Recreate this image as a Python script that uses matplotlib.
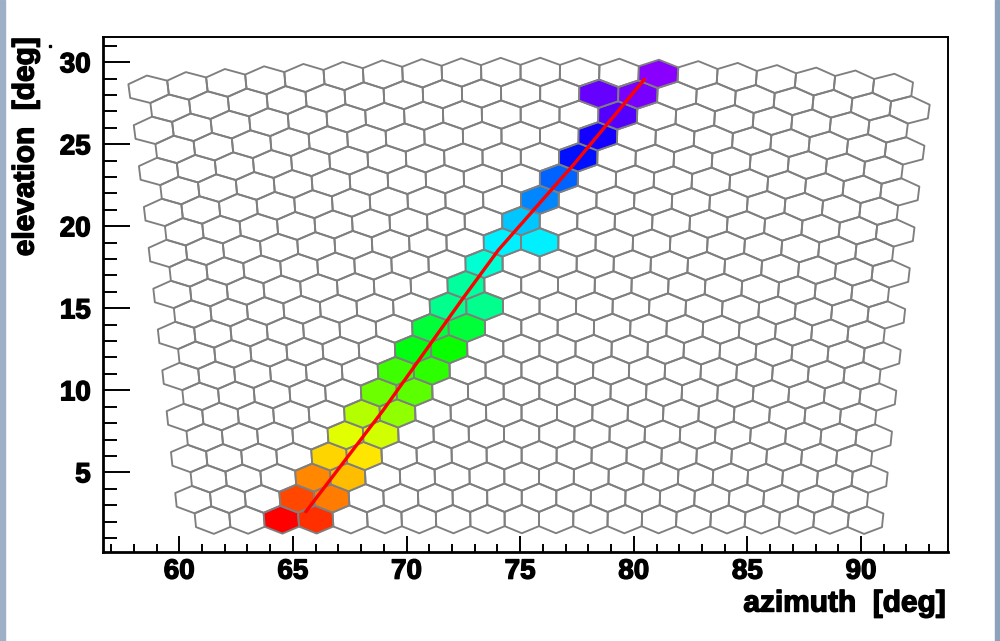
import numpy as np
import matplotlib
matplotlib.use("Agg")
import matplotlib.pyplot as plt
import matplotlib.patheffects as pe
from matplotlib.collections import PolyCollection
from matplotlib.colors import Normalize
from matplotlib.patches import Rectangle

# ---------------- data ----------------
# camera geometry (pointing direction, hexagonal pixel grid)
cam_az0 = 75.45      # deg
cam_el0 = 15.78      # deg
n_rows = 22
n_cols = 20
pitch_x = 1.553      # deg, horizontal pixel pitch
pitch_y = 1.298      # deg, row spacing

# hit pixels: approximate centre (az, el) and colour hue (deg)
hit_az = [64.52, 66.02, 65.27, 66.72, 66.02, 67.47, 66.72, 68.22, 67.47, 68.97,
          68.22, 69.72, 68.97, 70.46, 69.68, 71.17, 70.42, 71.92, 71.12, 72.71,
          71.92, 73.46, 72.66, 73.46, 74.21, 75.79, 74.99, 75.79, 76.83, 77.71,
          78.51, 79.47, 78.60, 79.83, 80.76]
hit_el = [2.27, 2.27, 3.55, 3.55, 4.89, 4.89, 6.17, 6.17, 7.45, 7.45,
          8.80, 8.80, 10.14, 10.14, 11.42, 11.42, 12.76, 12.76, 14.04, 14.04,
          15.32, 15.32, 16.60, 17.94, 19.16, 19.16, 20.50, 21.78, 23.00, 24.22,
          25.57, 26.91, 28.19, 28.19, 29.41]
hit_hue = [0, 12, 17, 30, 33, 45, 51, 56, 68, 73,
           80, 88, 96, 100, 108, 112, 126, 120, 136, 135,
           156, 156, 160, 172, 186, 186, 196, 212, 220, 240,
           248, 264, 268, 272, 276]

# fitted shower axis
track_az = [65.57, 68.98, 72.43, 74.04, 77.40, 80.47]
track_el = [2.60, 8.80, 15.51, 18.55, 23.84, 28.96]

x_ticks = [60, 65, 70, 75, 80, 85, 90]
y_ticks = [5, 10, 15, 20, 25, 30]
x_label = "azimuth  [deg]"
y_label = "elevation  [deg]"


# ---------------- geometry ----------------
def cam_to_azel(x, y):
    """gnomonic projection from camera plane (deg) to horizontal coords"""
    tx = np.tan(np.radians(np.asarray(x, float)))
    ty = np.tan(np.radians(np.asarray(y, float)))
    a0, e0 = np.radians(cam_az0), np.radians(cam_el0)
    c = np.array([np.cos(e0) * np.sin(a0), np.cos(e0) * np.cos(a0), np.sin(e0)])
    r = np.array([np.cos(a0), -np.sin(a0), 0.0])
    u = np.array([-np.sin(e0) * np.sin(a0), -np.sin(e0) * np.cos(a0), np.cos(e0)])
    v = c[:, None] + r[:, None] * tx.ravel() + u[:, None] * ty.ravel()
    az = np.degrees(np.arctan2(v[0], v[1]))
    el = np.degrees(np.arcsin(v[2] / np.linalg.norm(v, axis=0)))
    return az.reshape(tx.shape), el.reshape(tx.shape)


hx = np.array([0, 0.5, 0.5, 0, -0.5, -0.5]) * pitch_x
hy = np.array([2 / 3, 1 / 3, -1 / 3, -2 / 3, -1 / 3, 1 / 3]) * pitch_y

polys, centers = [], []
for i in range(n_rows):
    off = 0.25 if i % 2 == 0 else -0.25
    cy = (i - (n_rows - 1) / 2) * pitch_y
    for j in range(n_cols):
        cx = (j - (n_cols - 1) / 2 + off) * pitch_x
        az, el = cam_to_azel(cx + hx, cy + hy)
        polys.append(np.column_stack([az, el]))
        caz, cel = cam_to_azel([cx], [cy])
        centers.append((caz[0], cel[0]))
centers = np.array(centers)

cmap = plt.get_cmap("hsv")
norm = Normalize(0, 360)
face = [(1, 1, 1, 0)] * len(polys)
for a, e, h in zip(hit_az, hit_el, hit_hue):
    k = int(np.argmin((centers[:, 0] - a) ** 2 + (centers[:, 1] - e) ** 2))
    face[k] = cmap(norm(h))

# ---------------- figure ----------------
fig = plt.figure(figsize=(10, 6.41), dpi=100)
ax = fig.add_axes([0.1027, 0.1393, 0.8456, 0.8025])
ax.set_xlim(56.63, 93.84)
ax.set_ylim(0.16, 31.52)

pc = PolyCollection(polys, facecolors=face, edgecolors="#7f7f7f", linewidths=1.35)
ax.add_collection(pc)
ax.plot(track_az, track_el, color="#ff0000", lw=2.4, solid_capstyle="round", zorder=5)

FONT = "Liberation Sans"
heavy = [pe.withStroke(linewidth=1.0, foreground="black")]
ax.set_xticks(x_ticks)
ax.set_yticks(y_ticks)
ax.set_xticks(np.arange(57, 94, 1), minor=True)
ax.set_yticks(np.arange(1, 32, 1), minor=True)
ax.tick_params(axis="both", which="both", direction="in", top=False, right=False,
               width=1.4, colors="black")
ax.tick_params(axis="x", which="major", length=11.5, pad=5)
ax.tick_params(axis="x", which="minor", length=5.8)
ax.tick_params(axis="y", which="major", length=19.4, pad=8.6)
ax.tick_params(axis="y", which="minor", length=10)
for lab in ax.get_xticklabels() + ax.get_yticklabels():
    lab.set_fontfamily(FONT)
    lab.set_fontweight("bold")
    lab.set_fontsize(20)
    lab.set_path_effects(heavy)

for s in ["left", "bottom"]:
    ax.spines[s].set_linewidth(2.0)
for s in ["top", "right"]:
    ax.spines[s].set_linewidth(1.4)

W, H = 1000, 641
fig.text(946 / W, 1 - 611.5 / H, x_label, ha="right", va="baseline",
         fontfamily=FONT, fontweight="bold", fontsize=21.5, path_effects=heavy)
fig.text(33.5 / W, 1 - 37.5 / H, y_label, rotation=90, rotation_mode="anchor",
         ha="right", va="baseline", fontfamily=FONT, fontweight="bold", fontsize=21.5,
         path_effects=heavy)

# window frame strips and a stray pixel mark
fig.patches.append(Rectangle((0, 0), 5 / W, 1, transform=fig.transFigure,
                             color="#9db0c5", zorder=0))
fig.patches.append(Rectangle((995 / W, 0), 5 / W, 1, transform=fig.transFigure,
                             color="#8da3bd", zorder=0))
fig.patches.append(Rectangle((49 / W, 1 - 47 / H), 2 / W, 2 / H, transform=fig.transFigure,
                             color="black", zorder=1))

fig.savefig("out.png", dpi=100)
